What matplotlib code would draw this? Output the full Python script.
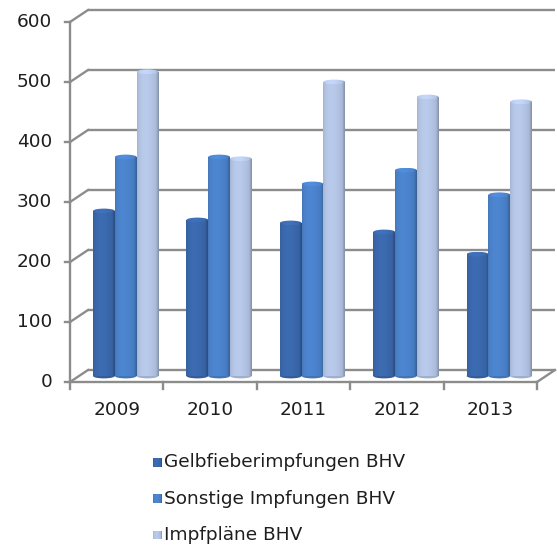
import numpy as np
import matplotlib
matplotlib.use("Agg")
import matplotlib.pyplot as plt
from matplotlib.patches import Rectangle, Ellipse
from matplotlib.colors import to_rgb

years = ["2009", "2010", "2011", "2012", "2013"]
gelbfieber = [275, 260, 255, 240, 203]
sonstige = [365, 365, 320, 343, 302]
impfplaene = [507, 362, 490, 465, 457]
series_names = ["Gelbfieberimpfungen BHV", "Sonstige Impfungen BHV", "Impfpläne BHV"]
series_values = [gelbfieber, sonstige, impfplaene]
series_colors = ["#3a67ab", "#4a81c9", "#b2c3e3"]
y_ticks = [0, 100, 200, 300, 400, 500, 600]

W, H = 557, 549
plt.rcParams["font.family"] = ["DejaVu Sans"]
fig = plt.figure(figsize=(W / 100, H / 100), dpi=100)
ax = fig.add_axes([0, 0, 1, 1])

# pixel scale of the front plane: one category and one value unit
cat_px, val_px = 93.4, 0.6
x0_px, y0_px = 70, 382
xlim = (-0.5 - x0_px / cat_px, -0.5 + (W - x0_px) / cat_px)
ylim = ((y0_px - H) / val_px, y0_px / val_px)

dx = 18 / cat_px          # depth offset (categories)
dy = 12 / val_px          # depth offset (values)
n = len(years)
left, right = -0.5, n - 0.5
grid_c = "#8c8c8c"
txt_c = "#1e1e1e"
lw = 1.7
fs = 13.3

# back wall gridlines and the diagonals to the front axis
for v in y_ticks:
    ax.plot([left + dx, right + dx], [v + dy, v + dy], color=grid_c, lw=lw,
            solid_capstyle="butt", zorder=1)
    ax.plot([left, left + dx], [v, v + dy], color=grid_c, lw=lw, zorder=1)
    ax.plot([left - 5 / cat_px, left], [v, v], color=grid_c, lw=lw, zorder=1)
    ax.text(left - 18 / cat_px, v, str(v), ha="right", va="center",
            fontsize=fs, color=txt_c)

# front axis, floor edges and category ticks
ax.plot([left, left], [0, y_ticks[-1]], color=grid_c, lw=lw, zorder=1)
ax.plot([left, right], [0, 0], color=grid_c, lw=lw, zorder=5)
ax.plot([right, right + dx], [0, dy], color=grid_c, lw=lw, zorder=5)
tick_len = 7 / val_px
for i in range(n + 1):
    ax.plot([left + i, left + i], [0, -tick_len], color=grid_c, lw=lw, zorder=5)
for i, yr in enumerate(years):
    ax.text(i, -47, yr, ha="center", va="center", fontsize=fs, color=txt_c)

# soft cylinder shading across a bar
t = np.linspace(0, 1, 64)
profile = 0.92 + 0.12 * np.sin(np.pi * t ** 0.7)
edge = t > 0.86
profile[edge] *= np.linspace(1.0, 0.80, edge.sum())


def shaded(color, k=1.0):
    rgb = np.array(to_rgb(color))
    img = np.clip(rgb[None, :] * profile[:, None] * k, 0, 1)
    return img[None, :, :]


w = 0.233
base = dy / 2
cap_h = 8
for s, (vals, col) in enumerate(zip(series_values, series_colors)):
    for i, v in enumerate(vals):
        xc = i + dx / 2 + (s - 1) * w
        x_l = xc - w / 2
        top = base + v
        rect = Rectangle((x_l, base), w, v, facecolor="none", edgecolor="none")
        ax.add_patch(rect)
        im = ax.imshow(shaded(col), extent=(x_l, x_l + w, base, top),
                       aspect="auto", interpolation="bilinear", zorder=3)
        im.set_clip_path(rect)
        bottom = Ellipse((xc, base), w, cap_h,
                         facecolor=np.clip(np.array(to_rgb(col)) * 0.9, 0, 1),
                         edgecolor="none", zorder=2.9)
        ax.add_patch(bottom)
        cap = Ellipse((xc, top), w, cap_h, facecolor="none", edgecolor="none", zorder=3.1)
        ax.add_patch(cap)
        im2 = ax.imshow(shaded(col, 1.06), extent=(x_l, x_l + w, top - cap_h / 2, top + cap_h / 2),
                        aspect="auto", interpolation="bilinear", zorder=3.1)
        im2.set_clip_path(cap)

# legend
leg_x = left + (153 - x0_px) / cat_px
sq = 9
for k, (name, col) in enumerate(zip(series_names, series_colors)):
    py = 462 + k * 36.5
    v = (y0_px - py) / val_px
    r = Rectangle((leg_x, v - sq / 2 / val_px), sq / cat_px, sq / val_px,
                  facecolor="none", edgecolor="none")
    ax.add_patch(r)
    im = ax.imshow(shaded(col), extent=(leg_x, leg_x + sq / cat_px,
                                        v - sq / 2 / val_px, v + sq / 2 / val_px),
                   aspect="auto", zorder=3)
    im.set_clip_path(r)
    ax.text(leg_x + 11 / cat_px, v, name, ha="left", va="center", fontsize=fs, color=txt_c)

ax.set_xlim(*xlim)
ax.set_ylim(*ylim)
ax.axis("off")
fig.savefig("out.png", dpi=100, facecolor="white")
